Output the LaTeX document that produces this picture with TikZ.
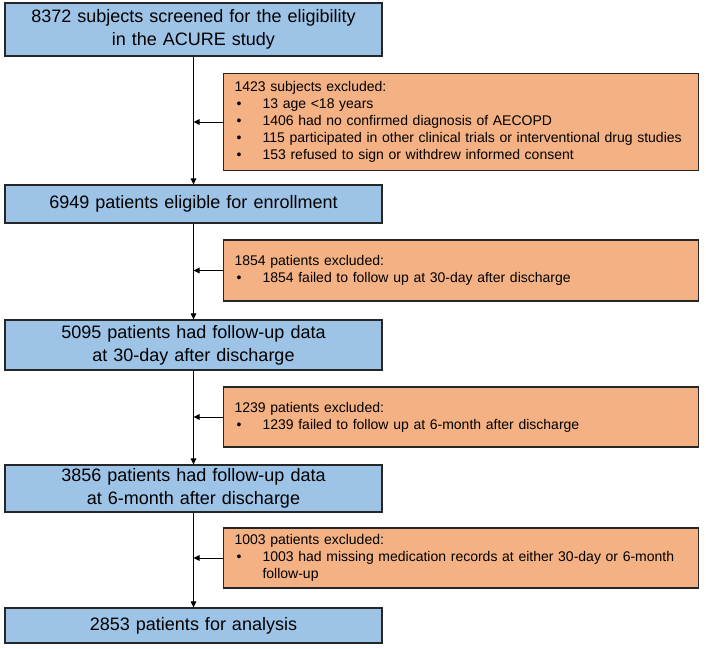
\documentclass[tikz,border=0pt]{standalone}
\usepackage{fontspec}
\setmainfont{Liberation Sans}
\usetikzlibrary{arrows.meta}
\definecolor{boxblue}{HTML}{9DC3E6}
\definecolor{boxorange}{HTML}{F4B183}
\definecolor{edge}{HTML}{262626}
\newcommand{\bl}{\makebox[28pt][l]{\hspace{2pt}•}}
\begin{document}
\begin{tikzpicture}[x=1pt,y=-1pt,
  bluebox/.style={draw=edge, line width=1.1pt, fill=boxblue, minimum width=377pt,
    text width=370pt, align=center, inner sep=0pt,
    font=\fontsize{18}{23}\selectfont},
  orangebox/.style={draw=edge, line width=1.1pt, fill=boxorange, minimum width=475pt,
    text width=453pt, align=left, inner xsep=11pt, inner ysep=0pt, anchor=west,
    font=\fontsize{14}{17}\selectfont},
  flow/.style={line width=1pt, draw=black, -{Triangle[length=6pt,width=5.5pt]}}]
\useasboundingbox (0,0) rectangle (706,648);

\node[bluebox, minimum height=53pt] (b1) at (193.5,29.5)
  {8372 subjects screened for the eligibility\\in the ACURE study};
\node[bluebox, minimum height=38pt] (b2) at (193.5,204)
  {6949 patients eligible for enrollment};
\node[bluebox, minimum height=50pt] (b3) at (193.5,345)
  {5095 patients had follow-up data\\at 30-day after discharge};
\node[bluebox, minimum height=47pt] (b4) at (193.5,488.5)
  {3856 patients had follow-up data\\at 6-month after discharge};
\node[bluebox, minimum height=35pt] (b5) at (193.5,625.5)
  {2853 patients for analysis};

\node[orangebox, minimum height=97pt] (o1) at (223,122)
  {1423 subjects excluded:\\
   \bl 13 age <18 years\\
   \bl 1406 had no confirmed diagnosis of AECOPD\\
   \bl 115 participated in other clinical trials or interventional drug studies\\
   \bl 153 refused to sign or withdrew informed consent};
\node[orangebox, minimum height=61pt] (o2) at (223,270.5)
  {1854 patients excluded:\\
   \bl 1854 failed to follow up at 30-day after discharge};
\node[orangebox, minimum height=60pt] (o3) at (223,417)
  {1239 patients excluded:\\
   \bl 1239 failed to follow up at 6-month after discharge};
\node[orangebox, minimum height=60pt] (o4) at (223,558)
  {1003 patients excluded:\\
   \bl 1003 had missing medication records at either 30-day or 6-month\\
   \hspace*{28pt}follow-up};

\draw[flow] (b1) -- (b2);
\draw[flow] (b2) -- (b3);
\draw[flow] (b3) -- (b4);
\draw[flow] (b4) -- (b5);
\draw[flow] (o1.west) -- (o1.west -| b1.center);
\draw[flow] (o2.west) -- (o2.west -| b2.center);
\draw[flow] (o3.west) -- (o3.west -| b3.center);
\draw[flow] (o4.west) -- (o4.west -| b4.center);
\end{tikzpicture}
\end{document}
